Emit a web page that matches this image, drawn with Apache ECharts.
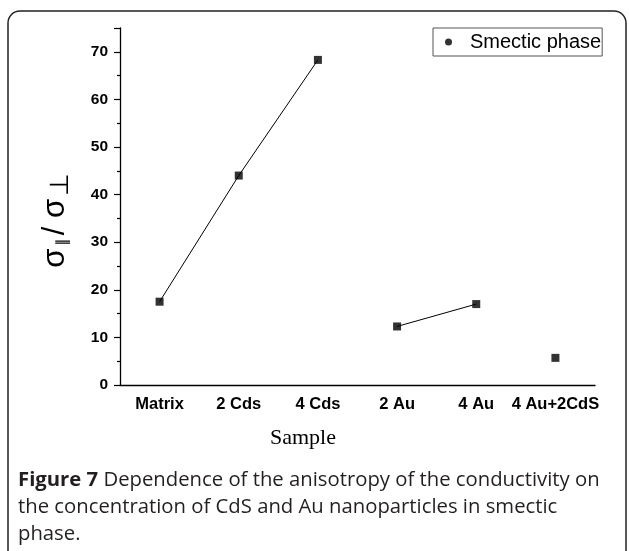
<!DOCTYPE html>
<html><head><meta charset="utf-8">
<script src="https://cdn.jsdelivr.net/npm/echarts@6/dist/echarts.min.js"></script>
<style>html,body{margin:0;padding:0;background:#fff}#c{width:629px;height:551px}</style>
</head><body><div id="c"></div>
<script>
const categories = ['Matrix', '2 Cds', '4 Cds', '2 Au', '4 Au', '4 Au+2CdS'];
const anisotropy = [17.5, 44.0, 68.3, 12.3, 17.0, 5.7];
const cdsGroup = [0, 1, 2];
const auGroup = [3, 4];
const yTicks = [0, 10, 20, 30, 40, 50, 60, 70];
const legendName = 'Smectic phase';

const groupLine = idx => anisotropy.map((v, i) => idx.includes(i) ? v : '-');

const chart = echarts.init(document.getElementById('c'));
chart.setOption({
  animation: false,
  grid: { left: 120, right: 34, top: 28, bottom: 166, containLabel: false },
  legend: {
    data: [{ name: legendName, icon: 'circle' }],
    left: 433, top: 28, itemWidth: 7, itemHeight: 7, itemGap: 0,
    borderColor: '#555', borderWidth: 1, padding: [4, 1, 4, 12],
    textStyle: { fontFamily: 'Liberation Sans', fontSize: 20, color: '#000', padding: [3, 0, 0, 13] }
  },
  xAxis: [{
    type: 'category', data: categories, boundaryGap: true,
    axisLine: { lineStyle: { color: '#000', width: 1.3 } },
    axisTick: { alignWithLabel: true, inside: false, length: 6, lineStyle: { color: '#000', width: 1.2 } },
    axisLabel: { color: '#000', fontWeight: 'bold', fontFamily: 'Liberation Sans', fontSize: 16.5, margin: 11, interval: 0 }
  }, {
    type: 'category', data: categories, boundaryGap: true, position: 'bottom',
    axisLine: { show: false },
    axisTick: { length: 3, lineStyle: { color: '#000', width: 1.2 } },
    axisLabel: { show: false }
  }],
  yAxis: {
    type: 'value', min: 0, max: 75, interval: 10,
    axisLine: { show: true, lineStyle: { color: '#000', width: 1.3 } },
    axisTick: { show: true, length: 6, lineStyle: { color: '#000', width: 1.2 } },
    minorTick: { show: true, splitNumber: 2, length: 3, lineStyle: { color: '#000', width: 1.2 } },
    splitLine: { show: false },
    axisLabel: { color: '#000', fontWeight: 'bold', fontFamily: 'Liberation Sans', fontSize: 15.5, margin: 12,
      formatter: v => yTicks.includes(v) ? String(v) : '' },
    name: '{s|σ}{b|∥}{s|/ σ}{p|⊥}', nameLocation: 'middle', nameRotate: 90, nameGap: 46,
    nameTextStyle: {
      padding: [0, 28, 0, 0],
      rich: {
        s: { fontFamily: 'Liberation Sans', fontSize: 31, color: '#000' },
        b: { fontFamily: 'DejaVu Sans', fontSize: 15, color: '#000', padding: [16, 3, 0, 3] },
        p: { fontFamily: 'DejaVu Sans', fontSize: 26, color: '#000', padding: [12, 0, 0, 3] }
      }
    }
  },
  series: [
    { type: 'line', xAxisIndex: 0, data: groupLine(cdsGroup), showSymbol: false, symbol: 'none',
      lineStyle: { color: '#000', width: 1 }, silent: true },
    { type: 'line', xAxisIndex: 0, data: groupLine(auGroup), showSymbol: false, symbol: 'none',
      lineStyle: { color: '#000', width: 1 }, silent: true },
    { name: legendName, type: 'scatter', xAxisIndex: 0, data: anisotropy, symbol: 'rect', symbolSize: 8,
      itemStyle: { color: '#000' } }
  ],
  graphic: [
    { type: 'rect', shape: { x: 8, y: 11, width: 618, height: 560, r: 12 },
      style: { fill: 'none', stroke: '#222', lineWidth: 1.5 }, z: -1 },
    { type: 'text', left: 270, top: 427,
      style: { text: 'Sample', font: '22px "Liberation Serif"', fill: '#000' } },
    { type: 'text', left: 18, top: 467,
      style: {
        text: '{b|Figure 7} Dependence of the anisotropy of the conductivity on\nthe concentration of CdS and Au nanoparticles in smectic\nphase.',
        font: '20.3px "Open Sans"', fill: '#231f20', lineHeight: 27,
        rich: { b: { fontWeight: 'bold', fontFamily: 'Open Sans', fontSize: 20.3, fill: '#231f20' } }
      } }
  ]
});
</script></body></html>
